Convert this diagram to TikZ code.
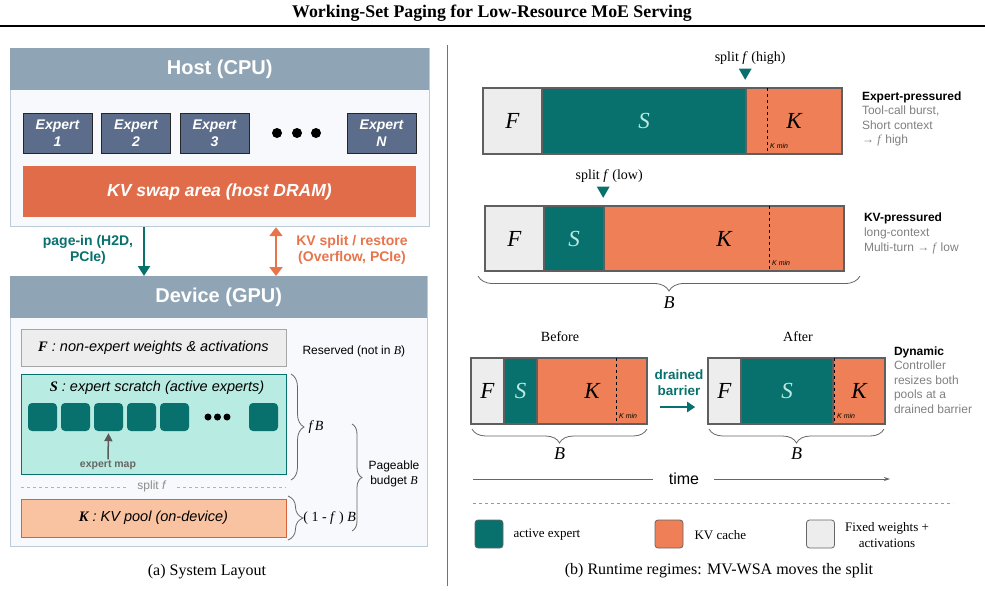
\documentclass[tikz,border=0pt]{standalone}
\usepackage{fontspec}
\setmainfont{Liberation Serif}
\setsansfont{Liberation Sans}
\usetikzlibrary{arrows.meta, positioning, calc, shapes.geometric, decorations.pathreplacing}

\definecolor{hdr}{HTML}{8FA5B6}
\definecolor{panelbg}{HTML}{F7F9FC}
\definecolor{panelline}{HTML}{BCCBD8}
\definecolor{slate}{HTML}{5B6D8A}
\definecolor{swap}{HTML}{E06C4A}
\definecolor{expteal}{HTML}{08716D}
\definecolor{kvorange}{HTML}{EE7F56}
\definecolor{kvlabel}{HTML}{E8744C}
\definecolor{fgray}{HTML}{EDEDED}
\definecolor{barline}{HTML}{5F5F5F}
\definecolor{sfill}{HTML}{B8EBE2}
\definecolor{kfill}{HTML}{F9C2A1}
\definecolor{kline}{HTML}{D7623C}
\definecolor{descgray}{HTML}{808080}

\begin{document}
\begin{tikzpicture}[x=1pt, y=-1pt,
		panel/.style={
			rectangle,
			draw=panelline,
			fill=panelbg,
			line width=1.2pt,
			inner sep=0pt
		},
		header/.style={
			rectangle,
			fill=hdr,
			inner sep=0pt,
			text=white,
			font=\sffamily\bfseries\fontsize{20}{24}\selectfont
		},
		expertbox/.style={
			rectangle,
			draw=black!85,
			fill=slate,
			line width=0.8pt,
			minimum width=69pt,
			minimum height=40pt,
			inner sep=0pt,
			align=center,
			text=white,
			font=\sffamily\bfseries\itshape\fontsize{14}{17}\selectfont
		},
		pool/.style={
			rectangle,
			line width=1pt,
			minimum width=265pt,
			inner sep=0pt,
			font=\sffamily\itshape\fontsize{14.5}{17}\selectfont
		},
		chip/.style={
			rectangle,
			rounded corners=4pt,
			fill=expteal,
			minimum width=29pt,
			minimum height=28pt,
			inner sep=0pt
		},
		seg/.style={
			rectangle,
			draw=barline,
			line width=1.6pt,
			inner sep=0pt,
			font=\itshape\fontsize{23}{26}\selectfont
		},
		segF/.style={seg, fill=fgray},
		segS/.style={seg, fill=expteal, text=sfill},
		segK/.style={seg, fill=kvorange},
		kmin/.style={black, dashed, line width=0.8pt},
		kminlbl/.style={anchor=west, inner sep=0pt, font=\sffamily\itshape\fontsize{7}{8}\selectfont},
		splitmark/.style={
			regular polygon,
			regular polygon sides=3,
			shape border rotate=180,
			fill=expteal,
			minimum size=15pt,
			inner sep=0pt
		},
		desc/.style={
			anchor=west,
			align=left,
			inner sep=0pt,
			text=descgray,
			font=\sffamily\fontsize{12}{14.6}\selectfont
		},
		bracegray/.style={
			decorate,
			decoration={brace, amplitude=#1},
			draw=black!60,
			line width=0.8pt
		},
		bracegray/.default=8pt,
		legendbox/.style={
			rectangle,
			draw=black!60,
			rounded corners=3pt,
			line width=0.8pt,
			minimum size=28pt,
			inner sep=0pt
		}
		]
		\useasboundingbox (0,0) rectangle (985,590);
		
		% Title and rules
		\node[font=\bfseries\fontsize{17.8}{20}\selectfont] (title) at (492,13) {Working-Set Paging for Low-Resource MoE Serving};
		\draw[line width=1.5pt] (0,26) -- (985,26);
		\draw[black!55, line width=0.8pt] (447,45) -- (447,586);
		
		% (a) Host side
		\node (host) [panel, anchor=north west, minimum width=419pt, minimum height=178pt] at (10,48) {};
		\node (hosthdr) [header, anchor=north west, minimum width=419pt, minimum height=42pt] at (10,48) {Host (CPU)};
		\node (e1) [expertbox] at (57.5,133) {Expert\\1};
		\node (e2) [expertbox] at (136,133) {Expert\\2};
		\node (e3) [expertbox] at (214.5,133) {Expert\\3};
		\node (eN) [expertbox] at (381.5,133) {Expert\\N};
		\fill (277,133) circle (5pt) (297,133) circle (5pt) (316,133) circle (5pt);
		\node (swaparea) [rectangle, fill=swap, minimum width=393pt, minimum height=51pt, text=white, font=\sffamily\bfseries\itshape\fontsize{17.5}{20}\selectfont] at (219.5,191.5) {KV swap area (host DRAM)};
		
		% (a) Device side
		\node (dev) [panel, anchor=north west, minimum width=417pt, minimum height=270pt] at (10,276) {};
		\node (devhdr) [header, anchor=north west, minimum width=417pt, minimum height=42pt] at (10,276) {Device (GPU)};
		
		\node (fbox) [pool, draw=black!35, fill=fgray, minimum height=37pt] at (153.5,347.5) {{\rmfamily\bfseries F} : non-expert weights \& activations};
		\node (reserved) [anchor=west, font=\sffamily\fontsize{12}{14}\selectfont] at (299,351) {Reserved (not in {\rmfamily\itshape B})};
		
		\node (sbox) [pool, draw=expteal, fill=sfill, minimum height=100pt] at (153.5,424) {};
		\node (stitle) [font=\sffamily\itshape\fontsize{14.5}{17}\selectfont] at (157,388) {{\rmfamily\bfseries S} : expert scratch (active experts)};
		\node (c1) [chip] at (42.5,417) {};
		\node (c2) [chip] at (75.5,417) {};
		\node (c3) [chip] at (108.5,417) {};
		\node (c4) [chip] at (141.5,417) {};
		\node (c5) [chip] at (174.5,417) {};
		\fill (208,417) circle (3.5pt) (217.5,417) circle (3.5pt) (227,417) circle (3.5pt);
		\node (cN) [chip] at (263.5,417) {};
		\node (maplbl) [text=black!60, font=\sffamily\bfseries\fontsize{10.5}{12}\selectfont, inner sep=1pt] at (108,465) {expert map};
		\draw[-{Triangle[length=8pt, width=8pt]}, black!65, line width=1.5pt] (maplbl.north) -- ([yshift=-2pt]c3.south);
		
		\coordinate (splitL) at (21,487);
		\coordinate (splitR) at (286,487);
		\draw[black!30, dashed, line width=0.8pt] (splitL) -- (splitR);
		\node (splitlbl) [fill=panelbg, inner xsep=8pt, inner ysep=1pt, text=black!45, font=\sffamily\fontsize{12}{14}\selectfont] at (152,486) {split \textit{f}};
		
		\node (kbox) [pool, draw=kline, fill=kfill, minimum height=38pt] at (153.5,518) {{\rmfamily\bfseries K} : KV pool (on-device)};
		
		% Budget braces
		\draw[bracegray=13pt] (291,374) -- (291,480) node[midway, right=14pt, font=\itshape\fontsize{14}{16}\selectfont] (fblbl) {f\,B};
		\draw[bracegray=15pt] (288,496) -- (288,540) node[midway, right=15pt, inner sep=0pt, font=\fontsize{14}{16}\selectfont] (kblbl) {( 1 - \textit{f} ) \textit{B}};
		\draw[bracegray=10pt] (352,424) -- (352,531);
		\node (budget) [align=center, font=\sffamily\fontsize{12}{15}\selectfont] at (394,474) {Pageable\\budget {\rmfamily\itshape B}};
		
		% Host <-> device transfers
		\coordinate (pinx) at (144,0);
		\coordinate (kvx) at (276,0);
		\draw[-{Triangle[length=10pt, width=12pt]}, expteal, line width=2.2pt] (host.south -| pinx) -- (dev.north -| pinx);
		\draw[{Triangle[length=9pt, width=13pt]}-{Triangle[length=9pt, width=13pt]}, kvlabel, line width=2.5pt] (host.south -| kvx) -- (dev.north -| kvx);
		\node (pinlbl) [align=center, text=expteal, font=\sffamily\bfseries\fontsize{14}{16}\selectfont] at (88,250) {page-in (H2D,\\PCIe)};
		\node (kvlbl) [align=center, text=kvlabel, font=\sffamily\bfseries\fontsize{14}{16}\selectfont] at (352,250) {KV split / restore\\(Overflow, PCIe)};
		
		\node (capa) [font=\fontsize{16}{18}\selectfont] at (207,572) {(a) System Layout};
		
		% (b) Expert-pressured bar
		\node (f1) [segF, minimum width=59pt, minimum height=66pt] at (512.5,121) {F};
		\node (s1) [segS, minimum width=204pt, minimum height=66pt] at (644,121) {S};
		\node (k1) [segK, minimum width=96pt, minimum height=66pt] at (794,121) {K};
		\draw[kmin] (767,88) -- (767,154);
		\node[kminlbl] at (770,146) {K min};
		\node (hightri) [splitmark, above=7pt of k1.north west] {};
		\node (highlbl) [above=0pt of hightri, xshift=5pt, font=\fontsize{14}{16}\selectfont] {split \textit{f} (high)};
		\node (expdesc) [desc, right=19pt of k1.east, yshift=2pt] {\textcolor{black}{\bfseries Expert-pressured}\\Tool-call burst,\\Short context\\→ \textrm{\itshape f} high};
		
		% (b) KV-pressured bar
		\node (f2) [segF, minimum width=59pt, minimum height=65pt] at (514.5,238.5) {F};
		\node (s2) [segS, minimum width=60pt, minimum height=65pt] at (574,238.5) {S};
		\node (k2) [segK, minimum width=240pt, minimum height=65pt] at (724,238.5) {K};
		\draw[kmin] (769,206) -- (769,271);
		\node[kminlbl] at (772,263) {K min};
		\node (lowtri) [splitmark, above=7pt of k2.north west] {};
		\node (lowlbl) [above=0pt of lowtri, xshift=6pt, font=\fontsize{14}{16}\selectfont] {split \textit{f} (low)};
		\node (kvdesc) [desc, right=19pt of k2.east, yshift=5pt] {\textcolor{black}{\bfseries KV-pressured}\\long-context\\Multi-turn → \textrm{\itshape f} low};
		\draw[bracegray=15pt] (860,276) -- (478,276) node[midway, below=17pt, font=\itshape\fontsize{18}{20}\selectfont] (b2lbl) {B};
		
		% (b) Dynamic resize at a barrier
		\node (beforelbl) [font=\fontsize{14}{16}\selectfont] at (560,337) {Before};
		\node (fb) [segF, minimum width=33pt, minimum height=66pt] at (487.5,391) {F};
		\node (sb) [segS, minimum width=33pt, minimum height=66pt] at (520.5,391) {S};
		\node (kb) [segK, minimum width=110pt, minimum height=66pt] at (592,391) {K};
		\draw[kmin] (616,358) -- (616,424);
		\node[kminlbl] at (619,416) {K min};
		\draw[bracegray=14pt] (647,429) -- (472,429) node[midway, below=15pt, font=\itshape\fontsize{18}{20}\selectfont] (bblbl) {B};
		
		\node (afterlbl) [font=\fontsize{14}{16}\selectfont] at (798,337) {After};
		\node (fa) [segF, minimum width=33pt, minimum height=66pt] at (724.5,391) {F};
		\node (sa) [segS, minimum width=92pt, minimum height=66pt] at (787,391) {S};
		\node (ka) [segK, minimum width=52pt, minimum height=66pt] at (859,391) {K};
		\draw[kmin] (834.5,358) -- (834.5,424);
		\node[kminlbl] at (837,416) {K min};
		\draw[bracegray=14pt] (884,429) -- (709,429) node[midway, below=15pt, font=\itshape\fontsize{18}{20}\selectfont] (balbl) {B};
		\node (dyndesc) [desc, right=8pt of ka.east, yshift=11pt] {\textcolor{black}{\bfseries Dynamic}\\Controller\\resizes both\\pools at a\\drained barrier};
		
		\node (drainlbl) [align=center, text=expteal, font=\sffamily\bfseries\fontsize{13.5}{16}\selectfont] at (679,383) {drained\\barrier};
		\draw[-{Triangle[length=8pt, width=10pt]}, expteal, line width=2pt] ([xshift=12pt, yshift=-16pt]kb.east) -- ([xshift=-12pt, yshift=-16pt]fa.west);
		
		% Time axis
		\node (timelbl) [inner sep=0pt, font=\sffamily\fontsize{16}{18}\selectfont] at (684,479) {time};
		\coordinate (tstart) at (473,479);
		\coordinate (tend) at (890,479);
		\draw[black!60, line width=0.8pt] (tstart) -- ([xshift=-16pt]timelbl.west);
		\draw[-{Stealth[length=6pt, width=4pt]}, black!60, line width=0.8pt] ([xshift=15pt]timelbl.east) -- (tend);
		
		\draw[black!40, dashed, line width=0.9pt] (473,503) -- (953,503);
		
		% Legend
		\node (legS) [legendbox, fill=expteal] at (489,534) {};
		\node (legSlbl) [anchor=west, font=\fontsize{13}{15}\selectfont] at (510,535) {active expert};
		\node (legK) [legendbox, fill=kvorange] at (669,534) {};
		\node (legKlbl) [anchor=west, font=\fontsize{13}{15}\selectfont] at (691,535) {KV cache};
		\node (legF) [legendbox, fill=fgray] at (820.5,534) {};
		\node (legFlbl) [align=center, font=\fontsize{13}{16}\selectfont] at (887,535) {Fixed weights +\\activations};
		
		\node (capb) [font=\fontsize{16}{18}\selectfont] at (719,571) {(b) Runtime regimes: MV-WSA moves the split};
		
	\end{tikzpicture}
\end{document}
